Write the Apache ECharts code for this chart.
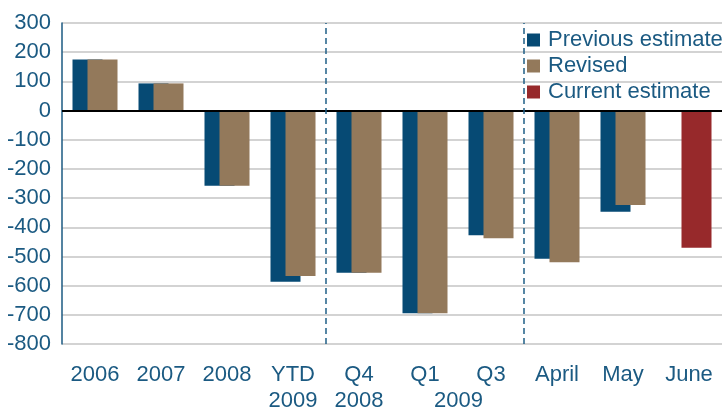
<!DOCTYPE html>
<html>
<head>
<meta charset="utf-8">
<script src="https://cdn.jsdelivr.net/npm/echarts@6/dist/echarts.min.js"></script>
<style>
  html, body { margin: 0; padding: 0; background: #fff; }
  #chart { width: 723px; height: 408px; }
</style>
</head>
<body>
<div id="chart"></div>
<script>
const categories = ['2006', '2007', '2008', 'YTD\n2009', 'Q4\n2008', 'Q1', 'Q3', 'April', 'May', 'June']
const previousEstimate = [175, 93, -258, -587, -556, -695, -427, -508, -347, null]
const revised = [175, 93, -258, -567, -556, -695, -438, -520, -324, null]
const currentEstimate = [null, null, null, null, null, null, null, null, null, -470]
const yTicks = { min: -800, max: 300, interval: 100 }
// period separators, in category units (between YTD/Q4 and Q3/April)
const separators = [4, 7]

const textColor = '#1b5a82'
const font = 'Liberation Sans, Arial, sans-serif'

const chart = echarts.init(document.getElementById('chart'))
chart.setOption({
  animation: false,
  textStyle: { fontFamily: font },
  grid: { left: 62, right: 1, top: 23, bottom: 64, outerBoundsMode: 'none' },
  legend: {
    orient: 'vertical',
    left: 527,
    top: 29,
    padding: 0,
    itemWidth: 13,
    itemHeight: 13,
    itemGap: 4,
    icon: 'rect',
    textStyle: { color: textColor, fontSize: 22, padding: [0, 0, 0, 3] },
    data: ['Previous estimate', 'Revised', 'Current estimate']
  },
  xAxis: [
    {
      type: 'category',
      data: categories,
      axisLine: { show: false, onZero: false },
      axisTick: { show: false },
      axisLabel: { color: textColor, fontSize: 22, lineHeight: 26, margin: 18, interval: 0 }
    },
    {
      type: 'value',
      min: 0,
      max: categories.length,
      show: false
    }
  ],
  yAxis: {
    type: 'value',
    min: yTicks.min,
    max: yTicks.max,
    interval: yTicks.interval,
    axisLine: { show: true, lineStyle: { color: textColor, width: 1.5 } },
    axisTick: { show: false },
    axisLabel: { color: textColor, fontSize: 22, margin: 11 },
    splitLine: { lineStyle: { color: '#c4c4c4', width: 1.5 } }
  },
  graphic: [{
    type: 'text',
    left: 434,
    top: 390,
    style: { text: '2009', fill: textColor, fontSize: 22, fontFamily: font }
  }],
  series: [
    {
      name: 'Previous estimate',
      type: 'bar',
      barWidth: 30,
      barGap: '-50%',
      itemStyle: { color: '#064a74' },
      data: previousEstimate,
      markLine: {
        symbol: 'none',
        silent: true,
        label: { show: false },
        lineStyle: { color: '#000', width: 2, type: 'solid' },
        data: [{ yAxis: 0 }]
      },
      z: 2
    },
    {
      name: 'Revised',
      type: 'bar',
      stack: 'b',
      barWidth: 30,
      itemStyle: { color: '#93795b' },
      data: revised,
      z: 3
    },
    {
      name: 'Current estimate',
      type: 'bar',
      stack: 'b',
      barWidth: 30,
      itemStyle: { color: '#97292b' },
      data: currentEstimate,
      z: 3
    },
    {
      name: 'separators',
      type: 'line',
      xAxisIndex: 1,
      data: [],
      markLine: {
        symbol: 'none',
        silent: true,
        label: { show: false },
        lineStyle: { color: '#1f5f86', width: 1.5, type: [6, 4] },
        data: separators.map(function (x) { return { xAxis: x } })
      }
    }
  ]
})
</script>
</body>
</html>
